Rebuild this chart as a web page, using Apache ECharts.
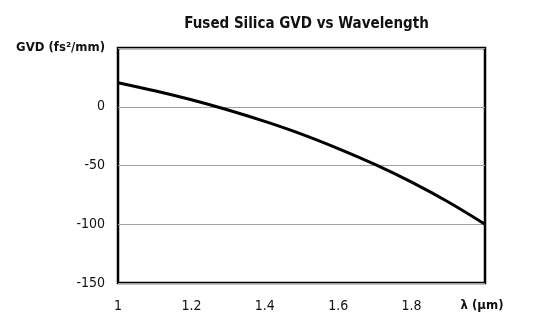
<!DOCTYPE html>
<html>
<head>
<meta charset="utf-8">
<script src="https://cdn.jsdelivr.net/npm/echarts@6/dist/echarts.min.js"></script>
<style>
html,body{margin:0;padding:0;background:#fff;}
#chart{width:551px;height:329px;}
</style>
</head>
<body>
<div id="chart"></div>
<script>
var chartTitle = 'Fused Silica GVD vs Wavelength';
var yAxisName = 'GVD (fs\u00b2/mm)';
var xAxisName = '\u03bb (\u03bcm)';
var wavelengths = [1.0, 1.1, 1.2, 1.3, 1.4, 1.5, 1.6, 1.7, 1.8, 1.9, 2.0];
var gvdValues = [20.5, 13.6, 5.9, -2.8, -12.5, -23.3, -35.6, -49.1, -64.2, -81.1, -100];
var xTicks = [1, 1.2, 1.4, 1.6, 1.8, 2];
var yTicks = [-150, -100, -50, 0, 50];

var FONT = '"DejaVu Sans Condensed", "Liberation Sans Narrow", "Liberation Sans", sans-serif';
var chart = echarts.init(document.getElementById('chart'));
var pts = wavelengths.map(function (w, i) { return [w, gvdValues[i]]; });

chart.setOption({
  animation: false,
  backgroundColor: '#fff',
  title: {
    text: chartTitle,
    left: 301.5,
    textAlign: 'center',
    top: 12,
    textStyle: { fontFamily: FONT, fontWeight: 'bold', fontSize: 15, color: '#111' }
  },
  grid: {
    left: 118, right: 66, top: 48, bottom: 46,
    show: true, borderColor: '#000', borderWidth: 2.5, backgroundColor: '#fff'
  },
  xAxis: {
    type: 'value',
    min: 1, max: 2, interval: 0.2,
    axisLine: { show: false },
    axisTick: { show: false },
    splitLine: { show: false },
    axisLabel: {
      margin: 16,
      showMaxLabel: true,
      fontFamily: FONT, fontSize: 14, color: '#111',
      formatter: function (v) {
        if (Math.abs(v - 2) < 1e-9) return '{b|' + xAxisName + '}';
        return String(Math.round(v * 10) / 10);
      },
      rich: { b: { fontFamily: FONT, fontWeight: 'bold', fontSize: 13, color: '#111', padding: [0, 6, 0, 0] } }
    }
  },
  yAxis: {
    type: 'value',
    min: -150, max: 50, interval: 50,
    axisLine: { show: false },
    axisTick: { show: false },
    splitLine: { show: true, lineStyle: { color: '#a0a0a0', width: 1 } },
    axisLabel: {
      margin: 13,
      showMaxLabel: true,
      fontFamily: FONT, fontSize: 14, color: '#111',
      formatter: function (v) {
        if (v === 50) return '{b|' + yAxisName + '}';
        return String(v);
      },
      rich: { b: { fontFamily: FONT, fontWeight: 'bold', fontSize: 13, color: '#111' } }
    }
  },
  series: [{
    type: 'line',
    data: pts,
    smooth: 0.35,
    symbol: 'none',
    lineStyle: { color: '#000', width: 3 }
  }]
});
</script>
</body>
</html>
